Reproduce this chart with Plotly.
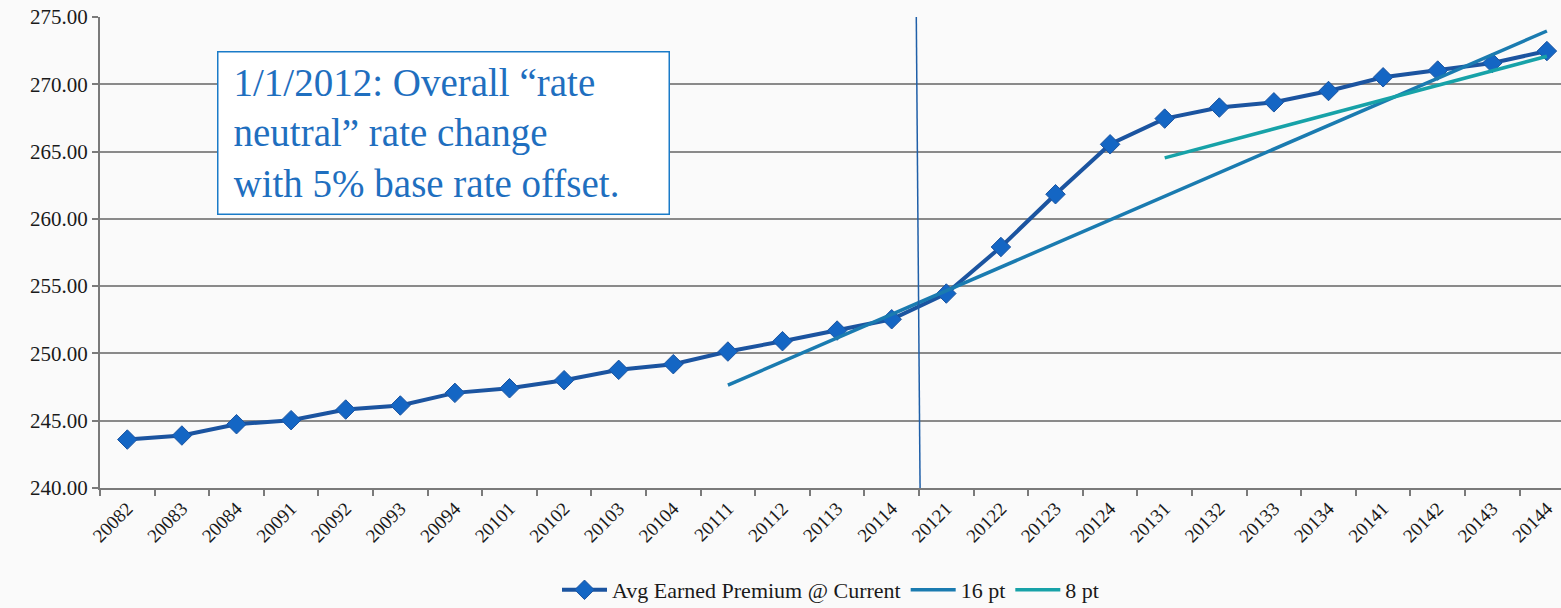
import plotly.graph_objects as go

quarters = ["20082", "20083", "20084", "20091", "20092", "20093", "20094",
            "20101", "20102", "20103", "20104", "20111", "20112", "20113", "20114",
            "20121", "20122", "20123", "20124", "20131", "20132", "20133", "20134",
            "20141", "20142", "20143", "20144"]
avg_earned_premium = [243.60, 243.90, 244.74, 245.04, 245.83, 246.13, 247.07,
                      247.41, 248.01, 248.78, 249.20, 250.14, 250.91, 251.70, 252.54,
                      254.45, 257.91, 261.83, 265.54, 267.45, 268.27, 268.66, 269.50,
                      270.52, 271.02, 271.58, 272.47]
trend16_x = ["20111", "20144"]
trend16_y = [247.64, 273.96]
trend8_x = ["20131", "20144"]
trend8_y = [264.53, 272.08]
y_ticks = [240, 245, 250, 255, 260, 265, 270, 275]
y_tick_labels = ["240.00", "245.00", "250.00", "255.00", "260.00", "265.00", "270.00", "275.00"]
event_x_top, event_x_bottom = 14.45, 14.52
note_text = "1/1/2012: Overall \u201crate<br>neutral\u201d rate change<br>with 5% base rate offset."

SERIF = "Liberation Serif"

fig = go.Figure()
fig.add_trace(go.Scatter(
    x=quarters, y=avg_earned_premium, mode="lines+markers",
    name="Avg Earned Premium @ Current",
    line=dict(color="#1b54a0", width=4),
    marker=dict(symbol="diamond", size=15, color="#1466c4",
                line=dict(color="#1b54a0", width=1)),
))
fig.add_trace(go.Scatter(
    x=trend16_x, y=trend16_y, mode="lines", name="16 pt",
    line=dict(color="#1a7bb0", width=3.5),
))
fig.add_trace(go.Scatter(
    x=trend8_x, y=trend8_y, mode="lines", name="8 pt",
    line=dict(color="#17a2a8", width=3.5),
))

fig.add_shape(type="line", xref="x", yref="y",
              x0=event_x_top, y0=275.2, x1=event_x_bottom, y1=239.85,
              line=dict(color="#1f5fa8", width=1.5))

fig.add_annotation(
    xref="paper", yref="paper", x=(217 - 100) / 1461, y=(488 - 51) / 471,
    xanchor="left", yanchor="top", text=note_text, showarrow=False,
    align="left", valign="middle", width=420, height=131, borderpad=15,
    bgcolor="#ffffff", bordercolor="#1a7bc8", borderwidth=1.5,
    font=dict(family=SERIF, size=39, color="#1f6fbf"),
)

fig.update_layout(
    width=1561, height=608,
    margin=dict(l=100, r=0, t=17, b=120, autoexpand=False),
    paper_bgcolor="#fafafa", plot_bgcolor="#fafafa",
    showlegend=True,
    legend=dict(orientation="h", x=0.5, xanchor="center",
                y=-(590 - 488) / 471, yanchor="middle",
                font=dict(family=SERIF, size=22, color="#1a1a1a"),
                bgcolor="rgba(0,0,0,0)", itemwidth=45, tracegroupgap=0),
    font=dict(family=SERIF, color="#1a1a1a"),
)
fig.update_xaxes(
    type="category", categoryorder="array", categoryarray=quarters,
    range=[-0.5, -0.5 + 1461 / 54.6], automargin=False,
    tickangle=-45, tickfont=dict(family=SERIF, size=19, color="#1a1a1a"),
    showgrid=False, showline=True, linecolor="#7a7a7a", linewidth=2,
    ticks="outside", tickson="boundaries", ticklen=6, tickcolor="#7a7a7a", tickwidth=1.5,
)
fig.update_yaxes(
    range=[240, 275], tickvals=y_ticks, ticktext=y_tick_labels, automargin=False,
    tickfont=dict(family=SERIF, size=21, color="#1a1a1a"),
    showgrid=True, gridcolor="#8a8a8a", gridwidth=1.5,
    showline=True, linecolor="#7a7a7a", linewidth=2,
    ticks="outside", ticklen=6, tickcolor="#7a7a7a", tickwidth=1.5,
    zeroline=False,
)

fig.write_html("out.html")
